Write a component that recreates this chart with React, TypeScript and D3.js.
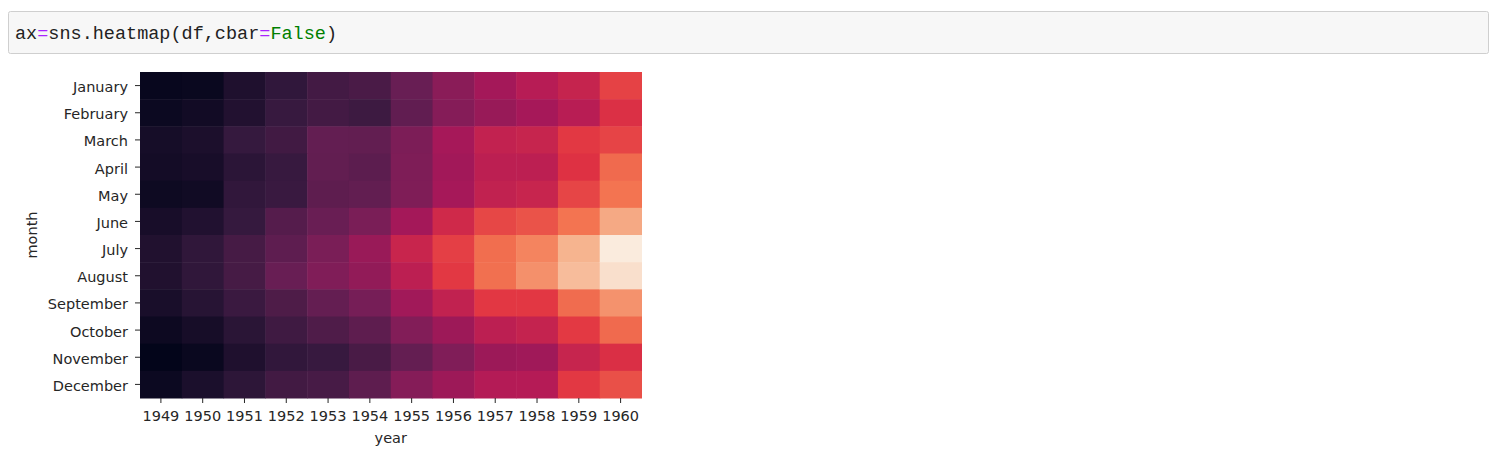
import React, { useEffect, useRef } from 'react';
import * as d3 from 'd3';

const years = ['1949', '1950', '1951', '1952', '1953', '1954', '1955', '1956', '1957', '1958', '1959', '1960'];
const months = ['January', 'February', 'March', 'April', 'May', 'June', 'July', 'August', 'September', 'October', 'November', 'December'];

// passengers per year, one value per month
const p1949 = [112, 118, 132, 129, 121, 135, 148, 148, 136, 119, 104, 118];
const p1950 = [115, 126, 141, 135, 125, 149, 170, 170, 158, 133, 114, 140];
const p1951 = [145, 150, 178, 163, 172, 178, 199, 199, 184, 162, 146, 166];
const p1952 = [171, 180, 193, 181, 183, 218, 230, 242, 209, 191, 172, 194];
const p1953 = [196, 196, 236, 235, 229, 243, 264, 272, 237, 211, 180, 201];
const p1954 = [204, 188, 235, 227, 234, 264, 302, 293, 259, 229, 203, 229];
const p1955 = [242, 233, 267, 269, 270, 315, 364, 347, 312, 274, 237, 278];
const p1956 = [284, 277, 317, 313, 318, 374, 413, 405, 355, 306, 271, 306];
const p1957 = [315, 301, 356, 348, 355, 422, 465, 467, 404, 347, 305, 336];
const p1958 = [340, 318, 362, 348, 363, 435, 491, 505, 404, 359, 310, 337];
const p1959 = [360, 342, 406, 396, 420, 472, 548, 559, 463, 407, 362, 405];
const p1960 = [417, 391, 419, 461, 472, 535, 622, 606, 508, 461, 390, 432];
const passengers = [p1949, p1950, p1951, p1952, p1953, p1954, p1955, p1956, p1957, p1958, p1959, p1960];

// seaborn "rocket" sampled
const rocket = ['#03051a', '#35193e', '#701f57', '#ad1759', '#e13342', '#f37651', '#f6b48f', '#faebdd'];

export default function App() {
  const ref = useRef<SVGSVGElement>(null);

  useEffect(() => {
    if (!ref.current) return;
    const svg = d3.select(ref.current);
    svg.selectAll('*').remove();

    // code cell
    svg.append('rect')
      .attr('x', 8.5).attr('y', 11.5)
      .attr('width', 1480).attr('height', 42)
      .attr('rx', 2)
      .attr('fill', '#f7f7f7')
      .attr('stroke', '#cfcfcf');

    const code = svg.append('text')
      .attr('x', 15).attr('y', 39)
      .attr('font-family', '"Liberation Mono", "DejaVu Sans Mono", monospace')
      .attr('font-size', '18.5px')
      .attr('fill', '#222');
    code.append('tspan').text('ax');
    code.append('tspan').attr('fill', '#aa22ff').text('=');
    code.append('tspan').text('sns.heatmap(df,cbar');
    code.append('tspan').attr('fill', '#aa22ff').text('=');
    code.append('tspan').attr('fill', '#008000').text('False');
    code.append('tspan').text(')');

    const left = 140, right = 641.5, top = 72, bottom = 398;

    const x = d3.scaleBand<string>().domain(years).range([left, right]);
    const y = d3.scaleBand<string>().domain(months).range([top, bottom]);

    const all = passengers.flat();
    const t = d3.scaleLinear().domain([d3.min(all)!, d3.max(all)!]).range([0, 1]);
    const color = d3.scaleLinear<string>()
      .domain(rocket.map((_, i) => i / (rocket.length - 1)))
      .range(rocket)
      .interpolate(d3.interpolateRgb);

    const cells = passengers.flatMap((vals, yi) =>
      vals.map((v, mi) => ({ year: years[yi], month: months[mi], v })));

    svg.append('g')
      .selectAll('rect')
      .data(cells)
      .enter()
      .append('rect')
      .attr('x', d => x(d.year)!)
      .attr('y', d => y(d.month)!)
      .attr('width', x.bandwidth() + 0.5)
      .attr('height', y.bandwidth() + 0.5)
      .attr('fill', d => color(t(d.v)));

    const font = '"DejaVu Sans", sans-serif';

    // x axis
    const gx = svg.append('g')
      .attr('transform', `translate(0,${bottom})`)
      .call(d3.axisBottom(x).tickSize(5).tickPadding(8));
    gx.select('.domain').remove();
    gx.selectAll('line').attr('stroke', '#262626');
    gx.selectAll('text')
      .attr('fill', '#262626')
      .attr('font-size', '14.5px')
      .attr('font-family', font);

    // y axis
    const gy = svg.append('g')
      .attr('transform', `translate(${left},0)`)
      .call(d3.axisLeft(y).tickSize(5).tickPadding(7));
    gy.select('.domain').remove();
    gy.selectAll('line').attr('stroke', '#262626');
    gy.selectAll('text')
      .attr('fill', '#262626')
      .attr('font-size', '14.5px')
      .attr('font-family', font)
      .attr('dy', '0.45em');

    svg.append('text')
      .attr('x', (left + right) / 2)
      .attr('y', 443)
      .attr('text-anchor', 'middle')
      .attr('fill', '#262626')
      .attr('font-size', '14.5px')
      .attr('font-family', font)
      .text('year');

    svg.append('text')
      .attr('transform', `translate(37,${(top + bottom) / 2}) rotate(-90)`)
      .attr('text-anchor', 'middle')
      .attr('fill', '#262626')
      .attr('font-size', '14.5px')
      .attr('font-family', font)
      .text('month');
  }, []);

  return (
    <svg
      ref={ref}
      width={1506}
      height={464}
      style={{ position: 'absolute', left: 0, top: 0, background: '#fff' }}
    />
  );
}
